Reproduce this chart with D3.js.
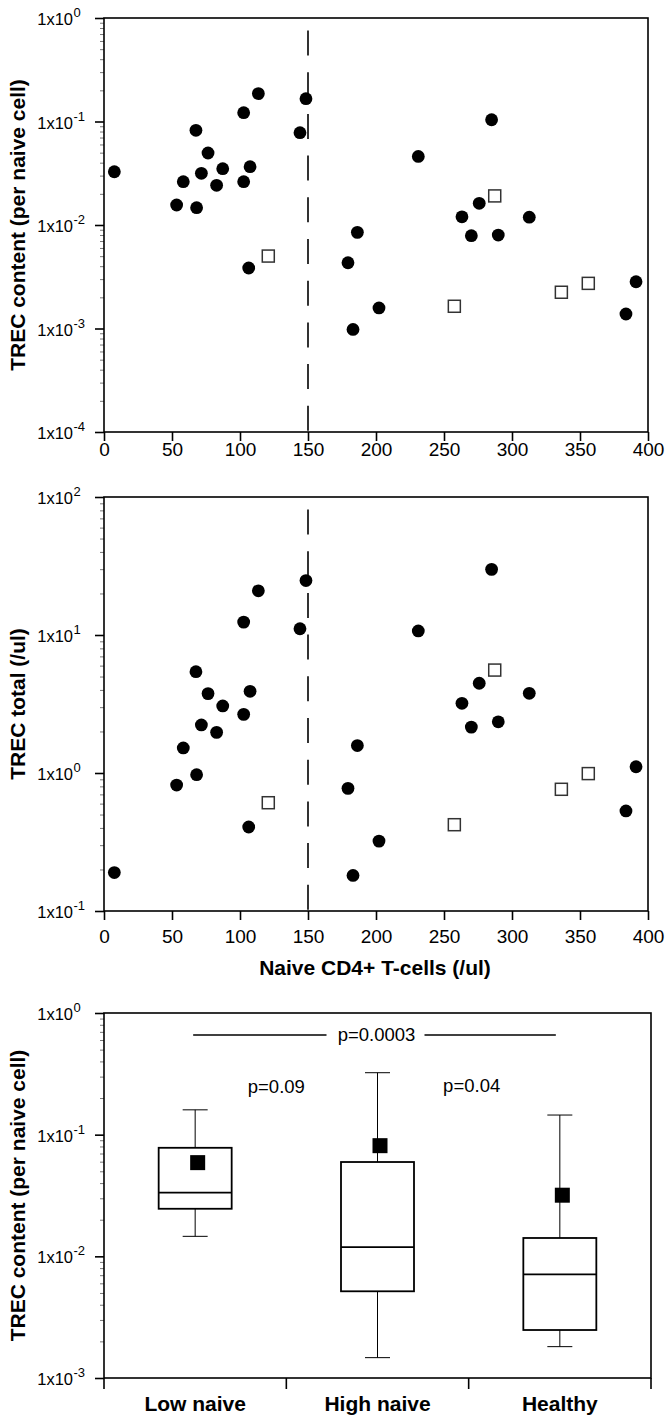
<!DOCTYPE html>
<html>
<head>
<meta charset="utf-8">
<script src="https://cdn.jsdelivr.net/npm/d3@7"></script>
<style>
  body { margin: 0; background: #fff; }
  svg text { font-family: "Liberation Sans", Arial, sans-serif; fill: #000; }
</style>
</head>
<body>
<svg id="chart"></svg>
<script>
var width = 665,
    height = 1416;

// patients, filled circles: naive CD4 count, TREC per naive cell, TREC per ul
var circleNaive   = [7.6, 53.4, 58.3, 67.6, 68.1, 71.6, 76.5, 82.8, 87.3, 102.7, 102.7, 106.4, 107.4, 113.5, 144.1, 148.5,
                     179.4, 183.1, 186.3, 202.2, 231.1, 263.2, 270.1, 275.9, 285.0, 289.9, 312.7, 383.8, 391.2];
var circleContent = [0.0327, 0.0156, 0.0262, 0.0822, 0.0147, 0.0316, 0.0496, 0.0242, 0.035, 0.0262, 0.1216, 0.00384, 0.0366, 0.186, 0.078, 0.166,
                     0.00432, 0.00098, 0.00849, 0.00158, 0.046, 0.0120, 0.00789, 0.0162, 0.104, 0.0080, 0.0119, 0.00138, 0.00283];
var circleTotal   = [0.19, 0.818, 1.52, 5.42, 0.972, 2.23, 3.76, 1.97, 3.06, 2.66, 12.4, 0.406, 3.91, 20.9, 11.1, 24.8,
                     0.774, 0.181, 1.58, 0.321, 10.7, 3.20, 2.15, 4.47, 29.9, 2.35, 3.78, 0.531, 1.11];

// open squares
var squareNaive   = [120.8, 257.6, 287.3, 336.3, 356.1];
var squareContent = [0.00501, 0.00164, 0.0191, 0.00224, 0.00273];
var squareTotal   = [0.609, 0.422, 5.57, 0.762, 0.99];

var cutoff = 150;
var xTicks = [0, 50, 100, 150, 200, 250, 300, 350, 400];

// box plot
var groups      = ["Low naive", "High naive", "Healthy"];
var whiskerLow  = [0.0146, 0.00147, 0.00181];
var boxLow      = [0.0246, 0.00516, 0.00248];
var medians     = [0.0334, 0.0119, 0.00712];
var boxHigh     = [0.078, 0.0596, 0.01415];
var whiskerHigh = [0.16, 0.323, 0.145];
var means       = [0.0589, 0.0812, 0.0318];

var svg = d3.select('#chart')
            .attr('width', width)
            .attr('height', height);

var left = 104, right = 648;
var x = d3.scaleLinear().domain([0, 400]).range([left, right]);

function decades(lo, hi) {
  var out = [];
  for (var e = lo; e <= hi; e++) out.push(Math.pow(10, e));
  return out;
}
function minors(lo, hi) {
  var out = [];
  for (var e = lo; e < hi; e++)
    for (var m = 2; m <= 9; m++) out.push(m * Math.pow(10, e));
  return out;
}

function logAxis(g, y, lo, hi, l) {
  // minor ticks
  g.append('g')
    .attr('transform', 'translate(' + l + ',0)')
    .call(d3.axisLeft(y).tickValues(minors(lo, hi)).tickSize(4).tickFormat(''))
    .call(a => a.select('.domain').remove())
    .call(a => a.selectAll('line').attr('stroke', '#777').attr('stroke-width', 1));
  // major ticks
  g.append('g')
    .attr('transform', 'translate(' + l + ',0)')
    .call(d3.axisLeft(y).tickValues(decades(lo, hi)).tickSize(9).tickFormat(''))
    .call(a => a.select('.domain').remove())
    .call(a => a.selectAll('line').attr('stroke', '#000').attr('stroke-width', 1.6));
  // labels 1x10^n
  var labs = g.append('g').selectAll('g')
    .data(d3.range(lo, hi + 1))
    .enter().append('g')
    .attr('transform', e => 'translate(0,' + (y(Math.pow(10, e)) + 7) + ')');
  labs.append('text')
    .attr('x', 73).attr('text-anchor', 'end')
    .attr('font-size', 16.5)
    .text('1x10');
  labs.append('text')
    .attr('x', 73.5).attr('y', -8)
    .attr('font-size', 13)
    .text(e => e < 0 ? '-' + (-e) : e);
}

function frame(g, l, r, t, b) {
  g.append('rect')
    .attr('x', l).attr('y', t)
    .attr('width', r - l).attr('height', b - t)
    .attr('fill', 'none')
    .attr('stroke', '#000')
    .attr('stroke-width', 1.6);
}

function yTitle(g, txt, cy) {
  g.append('text')
    .attr('transform', 'translate(25,' + cy + ') rotate(-90)')
    .attr('text-anchor', 'middle')
    .attr('font-size', 21)
    .attr('font-weight', 'bold')
    .text(txt);
}

function scatterPanel(top, bottom, lo, hi, circleY, squareY, title, labelPad) {
  var y = d3.scaleLog().domain([Math.pow(10, lo), Math.pow(10, hi)]).range([bottom, top]);
  var g = svg.append('g');

  // cutoff line
  g.append('line')
    .attr('x1', x(cutoff)).attr('x2', x(cutoff))
    .attr('y1', top + 12.5).attr('y2', bottom)
    .attr('stroke', '#000')
    .attr('stroke-width', 1.6)
    .attr('stroke-dasharray', '25,16.7');

  g.append('g')
    .attr('transform', 'translate(0,' + bottom + ')')
    .call(d3.axisBottom(x).tickValues(xTicks).tickSize(9).tickPadding(labelPad))
    .call(a => a.select('.domain').remove())
    .call(a => a.selectAll('line').attr('stroke', '#000').attr('stroke-width', 1.6))
    .call(a => a.selectAll('text').attr('font-size', 19).attr('font-family', '"Liberation Sans", Arial, sans-serif'));

  logAxis(g, y, lo, hi, left);
  frame(g, left, right, top, bottom);

  g.selectAll('.dot')
    .data(circleNaive)
    .enter().append('circle')
    .classed('dot', true)
    .attr('cx', d => x(d))
    .attr('cy', (d, i) => y(circleY[i]))
    .attr('r', 6.4)
    .attr('fill', '#000');

  g.selectAll('.sq')
    .data(squareNaive)
    .enter().append('rect')
    .classed('sq', true)
    .attr('x', d => x(d) - 6)
    .attr('y', (d, i) => y(squareY[i]) - 6)
    .attr('width', 12).attr('height', 12)
    .attr('fill', '#fff')
    .attr('stroke', '#333')
    .attr('stroke-width', 1.5);

  yTitle(g, title, (top + bottom) / 2);
}

scatterPanel(18, 432, -4, 0, circleContent, squareContent, 'TREC content (per naive cell)', 2);
scatterPanel(497, 911, -1, 2, circleTotal, squareTotal, 'TREC total (/ul)', 10);

svg.append('text')
  .attr('x', 375).attr('y', 975)
  .attr('text-anchor', 'middle')
  .attr('font-size', 21)
  .attr('font-weight', 'bold')
  .text('Naive CD4+ T-cells (/ul)');

// ---- box plot panel ----
var bTop = 1013, bBottom = 1378, bRight = 651;
var xb = d3.scaleBand().domain(groups).range([left, bRight]).padding(0);
var yb = d3.scaleLog().domain([1e-3, 1]).range([bBottom, bTop]);
var gb = svg.append('g');

// category boundary ticks
var edges = groups.map(d => xb(d)).concat([bRight]);
gb.selectAll('.edge')
  .data(edges)
  .enter().append('line')
  .attr('x1', d => d).attr('x2', d => d)
  .attr('y1', bBottom).attr('y2', bBottom + 11)
  .attr('stroke', '#000')
  .attr('stroke-width', 1.6);

gb.selectAll('.cat')
  .data(groups)
  .enter().append('text')
  .attr('x', d => xb(d) + xb.bandwidth() / 2)
  .attr('y', 1411)
  .attr('text-anchor', 'middle')
  .attr('font-size', 21)
  .attr('font-weight', 'bold')
  .text(d => d);

logAxis(gb, yb, -3, 0, left);
frame(gb, left, bRight, bTop, bBottom);

var boxW = 73, capW = 25;
var cx = d => xb(d) + xb.bandwidth() / 2;

var boxes = gb.selectAll('.box')
  .data(groups)
  .enter().append('g')
  .classed('box', true);

boxes.append('line')
  .attr('x1', d => cx(d)).attr('x2', d => cx(d))
  .attr('y1', (d, i) => yb(whiskerHigh[i])).attr('y2', (d, i) => yb(boxHigh[i]))
  .attr('stroke', '#000').attr('stroke-width', 1);
boxes.append('line')
  .attr('x1', d => cx(d)).attr('x2', d => cx(d))
  .attr('y1', (d, i) => yb(boxLow[i])).attr('y2', (d, i) => yb(whiskerLow[i]))
  .attr('stroke', '#000').attr('stroke-width', 1);
boxes.append('line')
  .attr('x1', d => cx(d) - capW / 2).attr('x2', d => cx(d) + capW / 2)
  .attr('y1', (d, i) => yb(whiskerHigh[i])).attr('y2', (d, i) => yb(whiskerHigh[i]))
  .attr('stroke', '#000').attr('stroke-width', 1);
boxes.append('line')
  .attr('x1', d => cx(d) - capW / 2).attr('x2', d => cx(d) + capW / 2)
  .attr('y1', (d, i) => yb(whiskerLow[i])).attr('y2', (d, i) => yb(whiskerLow[i]))
  .attr('stroke', '#000').attr('stroke-width', 1);
boxes.append('rect')
  .attr('x', d => cx(d) - boxW / 2)
  .attr('y', (d, i) => yb(boxHigh[i]))
  .attr('width', boxW)
  .attr('height', (d, i) => yb(boxLow[i]) - yb(boxHigh[i]))
  .attr('fill', '#fff')
  .attr('stroke', '#000').attr('stroke-width', 1.8);
boxes.append('line')
  .attr('x1', d => cx(d) - boxW / 2).attr('x2', d => cx(d) + boxW / 2)
  .attr('y1', (d, i) => yb(medians[i])).attr('y2', (d, i) => yb(medians[i]))
  .attr('stroke', '#000').attr('stroke-width', 1.8);
boxes.append('rect')
  .attr('x', d => cx(d) + 2.5 - 7.5)
  .attr('y', (d, i) => yb(means[i]) - 7.5)
  .attr('width', 15).attr('height', 15)
  .attr('fill', '#000');

// significance labels
var pLineY = yb(0.66);
var c0 = cx(groups[0]), c1 = cx(groups[1]), c2 = cx(groups[2]);
gb.append('line')
  .attr('x1', c0 - 2).attr('x2', (c0 + c2) / 2 - 51)
  .attr('y1', pLineY).attr('y2', pLineY)
  .attr('stroke', '#000').attr('stroke-width', 1.5);
gb.append('line')
  .attr('x1', (c0 + c2) / 2 + 47).attr('x2', c2 - 4)
  .attr('y1', pLineY).attr('y2', pLineY)
  .attr('stroke', '#000').attr('stroke-width', 1.5);
gb.append('text')
  .attr('x', (c0 + c2) / 2 - 1).attr('y', pLineY + 6.5)
  .attr('text-anchor', 'middle')
  .attr('font-size', 18.5)
  .text('p=0.0003');
gb.append('text')
  .attr('x', (c0 + c1) / 2 - 10).attr('y', yb(0.22))
  .attr('text-anchor', 'middle')
  .attr('font-size', 18.5)
  .text('p=0.09');
gb.append('text')
  .attr('x', (c1 + c2) / 2 + 3).attr('y', yb(0.225))
  .attr('text-anchor', 'middle')
  .attr('font-size', 18.5)
  .text('p=0.04');

yTitle(gb, 'TREC content (per naive cell)', (bTop + bBottom) / 2);
</script>
</body>
</html>
